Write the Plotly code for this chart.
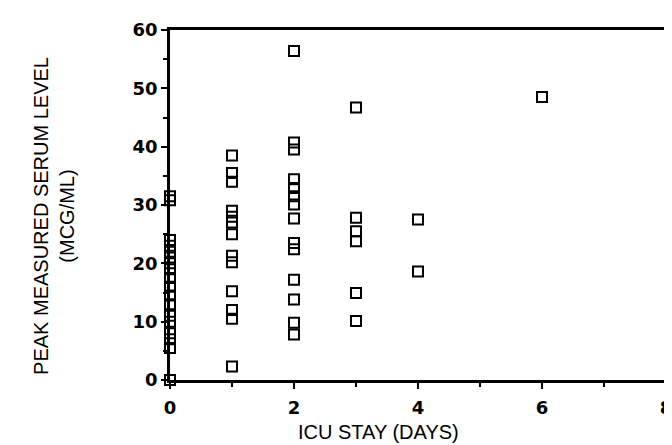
import plotly.graph_objects as go

# ICU stay (days) and peak measured serum level (mcg/ml)
icu_days_0 = [0] * 18
serum_0 = [31.5, 30.8, 24, 23, 22, 21, 20, 19, 17.5, 16, 14.5, 13, 11, 10, 8, 7, 5.5, 0]
icu_days_1 = [1] * 13
serum_1 = [38.5, 35.5, 34, 29, 28, 27, 25, 21.3, 20.2, 15.2, 12, 10.5, 2.3]
icu_days_2 = [2] * 14
serum_2 = [56.4, 40.7, 39.5, 34.4, 32.9, 31.5, 30.1, 27.7, 23.5, 22.4, 17.2, 13.8, 9.8, 7.8]
icu_days_3 = [3] * 6
serum_3 = [46.7, 27.8, 25.5, 23.8, 14.9, 10.1]
icu_days_4 = [4] * 2
serum_4 = [27.5, 18.6]
icu_days_6 = [6]
serum_6 = [48.5]

x_vals = icu_days_0 + icu_days_1 + icu_days_2 + icu_days_3 + icu_days_4 + icu_days_6
y_vals = serum_0 + serum_1 + serum_2 + serum_3 + serum_4 + serum_6

x_ticks = [0, 2, 4, 6, 8]
y_ticks = [0, 10, 20, 30, 40, 50, 60]

fig = go.Figure()
fig.add_trace(go.Scatter(
    x=x_vals, y=y_vals, mode="markers",
    marker=dict(symbol="square-open", size=10, color="black", line=dict(width=2, color="black")),
    cliponaxis=False, showlegend=False,
))

tickfont = dict(family="DejaVu Sans", size=18, color="black", weight="bold")
axis_common = dict(
    showgrid=False, zeroline=False, showline=True, linecolor="black", linewidth=2.5,
    mirror=True, ticks="outside", tickcolor="black", tickwidth=2, ticklen=6,
    tickfont=tickfont,
)
fig.update_xaxes(range=[0, 8], tickvals=x_ticks, ticktext=[str(v) for v in x_ticks],
                 ticklabelstandoff=4,
                 minor=dict(dtick=1, ticks="outside", ticklen=4, tickcolor="black", tickwidth=1.5),
                 **axis_common)
fig.update_yaxes(range=[0, 60], tickvals=y_ticks, ticktext=[str(v) for v in y_ticks],
                 minor=dict(dtick=5, ticks="outside", ticklen=4, tickcolor="black", tickwidth=1.5),
                 **axis_common)

fig.add_annotation(text="ICU STAY (DAYS)", xref="paper", yref="paper", x=0.42, y=-0.148,
                   showarrow=False, yanchor="middle", xanchor="center",
                   font=dict(family="Liberation Sans", size=20, color="black"))
fig.add_annotation(text="PEAK MEASURED SERUM LEVEL<br>(MCG/ML)", xref="paper", yref="paper",
                   x=-0.235, y=0.47, showarrow=False, textangle=-90,
                   xanchor="center", yanchor="middle",
                   font=dict(family="Liberation Sans", size=20, color="black"))

fig.update_layout(
    width=672, height=445,
    margin=dict(l=162, r=8, t=22, b=73),
    plot_bgcolor="white", paper_bgcolor="white",
)

fig.write_html("out.html")
